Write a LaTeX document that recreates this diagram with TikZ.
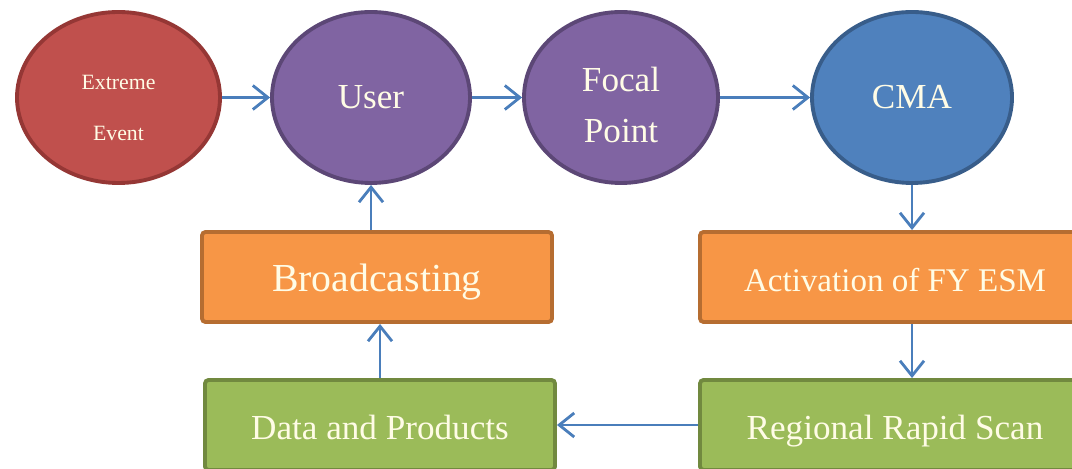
\documentclass[tikz,border=0pt]{standalone}
\usepackage{fontspec}
\setmainfont{Liberation Serif}
\usetikzlibrary{shapes.geometric,arrows.meta}

\definecolor{redfill}{HTML}{C0504D}
\definecolor{redline}{HTML}{953735}
\definecolor{purplefill}{HTML}{8064A2}
\definecolor{purpleline}{HTML}{5C4776}
\definecolor{bluefill}{HTML}{4F81BD}
\definecolor{blueline}{HTML}{385D8A}
\definecolor{orangefill}{HTML}{F79646}
\definecolor{orangeline}{HTML}{B66D31}
\definecolor{greenfill}{HTML}{9BBB59}
\definecolor{greenline}{HTML}{71893F}
\definecolor{arrowblue}{HTML}{4A7EBB}
\definecolor{txtcream}{HTML}{FFFCE6}

\begin{document}
\begin{tikzpicture}[
    oval/.style={ellipse, line width=1.1pt, minimum width=2cm, minimum height=1.71cm,
                 inner sep=0pt, text=txtcream, align=center, font=\fontsize{10}{14.5}\selectfont},
    box/.style={rectangle, rounded corners=1pt, line width=1.1pt, minimum height=0.9cm,
                text height=9pt, text depth=0.5pt, text=txtcream, font=\fontsize{10}{12}\selectfont},
    arr/.style={draw=arrowblue, line width=0.8pt, -{Straight Barb[length=1.5mm,width=2.4mm]}}
]
    \useasboundingbox (0,0) rectangle (10.72,4.68);
    \clip (0,0) rectangle (10.72,4.68);

    % top row: ovals
    \node[oval, fill=redfill, draw=redline, minimum width=2.03cm,
          font=\fontsize{6.2}{14.7}\selectfont] (ext) at (1.185,3.705) {\rule{0pt}{10pt}Extreme\\Event};
    \node[oval, fill=purplefill, draw=purpleline, minimum width=1.98cm] (user) at (3.71,3.705) {User};
    \node[oval, fill=purplefill, draw=purpleline, minimum width=1.94cm] (focal) at (6.21,3.705) {\rule{0pt}{11pt}Focal\\Point};
    \node[oval, fill=bluefill, draw=blueline] (cma) at (9.12,3.705) {CMA};

    % middle row: orange boxes (right one runs off the page)
    \node[box, fill=orangefill, draw=orangeline, minimum width=3.5cm,
          font=\fontsize{11.3}{13}\selectfont] (broad) at (3.77,1.91) {Broadcasting};
    \node[box, fill=orangefill, draw=orangeline, minimum width=4.3cm,
          font=\fontsize{9.4}{11}\selectfont] (activ) at (9.15,1.91) {\hspace*{-4mm}Activation of FY ESM};

    % bottom row: green boxes
    \node[box, fill=greenfill, draw=greenline, minimum width=3.5cm] (data) at (3.80,0.43) {Data and Products};
    \node[box, fill=greenfill, draw=greenline, minimum width=4.3cm] (scan) at (9.15,0.43) {\hspace*{-4mm}Regional Rapid Scan};

    % arrows
    \draw[arr] (ext) -- (user);
    \draw[arr] (user) -- (focal);
    \draw[arr] (focal) -- (cma);
    \draw[arr] (cma.south) -- (cma.south |- activ.north);
    \draw[arr] (activ.south -| cma.south) -- (scan.north -| cma.south);
    \draw[arr] (scan) -- (data);
    \draw[arr] (data.north) -- (broad.south -| data.north);
    \draw[arr] (broad.north -| user.south) -- (user.south);

\end{tikzpicture}
\end{document}
